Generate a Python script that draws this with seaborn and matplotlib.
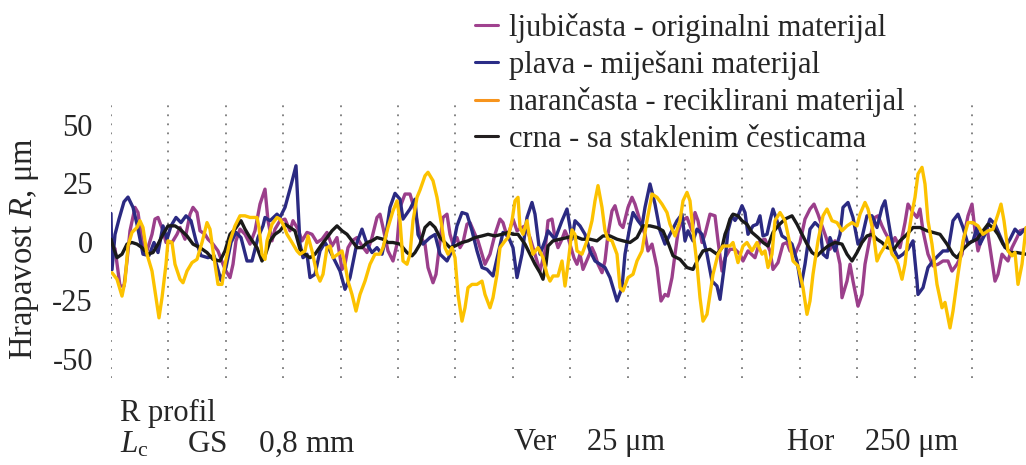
import numpy as np
import pandas as pd
import matplotlib
matplotlib.use("Agg")
import matplotlib.pyplot as plt
from matplotlib.lines import Line2D
import seaborn as sns

# sampling step of the profile (mm per sample index)
STEP_MM = 0.004355

names = ["ljubičasta - originalni materijal", "plava - miješani materijal",
         "narančasta - reciklirani materijal", "crna - sa staklenim česticama"]

purple_x = [0,4,9,13,16,19,24,27,31,36,41,44,47,52,55,61,66,69,74,79,82,86,89,94,97,102,107,112,115,119,122,125,129,134,139,144,149,154,157,161,164,169,174,179,182,187,191,196,201,206,211,216,221,226,231,234,237,241,246,251,256,261,266,269,272,277,282,286,289,294,299,304,309,314,317,322,325,329,332,336,339,342,346,349,352,356,359,364,367,371,374,379,384,389,392,396,399,402,406,411,414,419,424,429,434,437,441,444,447,451,454,457,461,463,466,469,472,477,481,484,487,491,494,497,501,504,509,512,517,521,524,529,534,537,541,546,550,554,557,561,564,567,571,576,581,584,587,591,594,599,604,607,611,614,619,624,629,632,637,644,649,654,659,662,667,672,676,679,684,689,694,699,703,707,711,714,719,724,729,731,736,739,742,747,751,754,759,764,767,771,774,777,781,784,789,794,797,802,806,809,812,817,822,827,832,837,841,846,851,854,857,861,864,867,871,876,879,884,887,891,894,897,901,906,909,914]
purple_v = [-1.1,-3,-19,-19,-8.3,4.6,14.6,12.4,0.3,-4,3.1,9.6,10.3,4.6,-0.4,-0.4,3.1,6,1,11.7,14.6,12.4,4.6,3.1,1,-1.1,-4,-9.7,-12.6,-15.4,-9.7,0.3,5.3,3.1,-1.1,4.6,16,22.4,8.9,0.3,5.3,8.9,9.6,4.6,8.9,5.3,0.3,3.9,3.1,-0.4,1,3.9,-1.9,1.7,-11.9,-9.7,-2.6,0.3,1.7,-1.9,-4.7,1.7,10.3,11.7,6,-4,-8.3,-1.1,14.6,20.3,20.3,13.1,2.4,-1.1,-11.1,-17.6,-14,0.3,10.3,11.7,3.1,-1.1,1.7,-2.6,-0.4,7.4,8.1,3.1,0.3,-5.4,-9.7,-5.4,3.1,9.6,8.1,2.4,5.3,9.6,4.6,6,6.7,1.7,-5.4,-12.6,-4,8.9,9.6,1.7,-2.6,1,4.6,1.7,-4,-7,-9.7,-5.4,-11.9,-6.9,-2.6,-5.4,-9.7,-13.3,-8.3,3.1,13.1,15.3,7.4,6,14.6,18.9,16,8.9,3.1,-4,-1.1,-11.1,-25.4,-22.6,-23.3,-15.4,-5.4,3.9,8.9,10.3,4.6,12.4,8.9,-0.4,3.1,11.7,11,0.3,-12.6,-7,-3.3,-3.3,-5.4,-8.3,-4,-6.9,0.3,1,-4,-11.9,-9,-1.1,-0.4,-4,-5.4,-0.4,9.6,13.9,16,11.7,6.7,3.1,-3.3,0.3,-9.7,-24,-16.9,-9.7,-16.9,-27.6,-22.6,-9.7,1.7,10.3,11,6.7,4,1.7,-1.1,1.7,-2.6,8.1,16,12.4,10.3,13.9,4.6,-5.4,-10.4,-9.7,-8.3,-8.3,-12.6,-9.7,-5.4,4.6,11,16,4.6,-4,1.7,6,-2.6,-16.9,-14,-5.4,-6.9,-8.3,-2.6,1.7,4.6,5.3]

blue_x = [0,1,4,8,13,17,22,26,32,38,43,47,52,56,60,65,70,75,80,85,90,97,103,110,115,120,125,130,136,141,147,152,154,159,166,169,174,180,185,189,192,196,199,204,209,214,219,224,229,234,239,246,251,256,261,266,271,274,279,284,289,292,299,304,307,312,319,324,329,336,341,346,351,356,361,366,371,376,382,387,392,397,402,406,411,416,421,424,429,434,437,444,451,456,461,464,469,474,479,484,489,494,499,506,511,514,519,522,527,531,534,539,544,549,554,559,566,571,574,577,582,586,591,596,601,606,609,614,617,621,624,627,631,634,637,642,646,649,652,656,659,662,666,671,676,681,686,690,694,699,704,709,712,716,719,724,729,732,737,742,747,751,756,761,766,771,774,779,782,787,792,797,802,806,807,812,817,822,827,832,837,842,847,852,857,862,866,869,874,879,884,889,894,899,904,909,914]
blue_v = [12,-12,3,9.6,17,19,14.6,7.4,-5.4,-6,-0.4,-4.7,6.7,1,6.7,10.3,8.1,11,8.9,0.3,-6,-6.9,-6,-16.6,-11,-0.4,3.9,1.7,-8.3,-8.3,1.7,6.7,10.3,8.9,11.7,10.3,14.6,24,32.4,-1.1,-6.9,-5.4,-15.4,-14,-4,-0.4,-4,-8.3,-12.6,-20.4,-15.4,-0.4,5.3,-1.1,-4.7,-2.6,-5.4,0.3,14.6,20.6,18.1,9.6,13.9,18.1,3,-1.1,1.7,3,-5.4,-8.3,-4,6.7,12.4,11.7,4.6,-4,-11.1,-11.9,-14.7,-5.4,3.9,2.4,-2.6,-15.4,-5.4,10.3,16.7,11.7,-5.4,0.3,4.6,1,8.9,13.9,1,8.9,6.7,3.1,-4,-8.3,-9.7,-11.1,-15.4,-25.4,-19.7,-5.4,6.7,12.4,8.9,6.7,14.6,24.6,16,4.6,-1.1,3.1,8.9,11.7,0.3,4.6,0.3,5.3,3.1,-5.4,-16.9,-19,-24.7,-8.3,4.6,11,9,11,15.3,12.4,3.1,6.7,7.4,11,2.4,3.1,8.9,13.9,8.9,2.4,1,-1.1,-8.3,-19,-9.7,5.3,8.1,6,-5.4,-6.9,1.7,-4,3.1,14.6,16.7,10.3,-1.1,1.7,11,11,6,14.6,17.4,4.6,-2.6,-6.9,-5.4,-3.3,0.3,-16.9,-22.6,-19.7,-11.1,-8.3,-6.1,-4,-4,8.9,11.7,6,-1.1,0.3,6,-1.1,3.1,9.6,7.4,2.4,-2.6,1,5.3,3.1,5.3]

yellow_x = [1,6,11,14,17,21,26,29,32,36,41,44,48,51,55,57,61,64,69,72,76,81,86,91,96,99,102,107,111,114,119,124,129,134,139,146,148,151,154,156,161,166,169,172,176,181,186,189,194,197,201,206,209,212,216,219,222,227,231,234,237,241,245,249,254,259,264,269,272,277,282,286,289,292,296,299,302,306,309,314,317,322,326,331,334,337,341,344,347,351,354,357,361,366,371,374,379,382,386,389,394,397,401,404,407,409,412,416,419,422,427,432,436,439,442,447,451,454,457,461,464,466,471,476,481,484,487,491,494,497,501,506,509,512,517,522,526,531,536,541,546,551,556,559,564,569,572,576,579,582,586,589,592,596,599,602,607,612,619,622,627,632,636,641,646,651,654,657,661,664,669,674,679,682,687,692,696,699,702,707,712,716,721,726,731,736,741,746,749,754,757,762,766,769,774,777,781,784,787,791,794,797,801,804,807,811,814,817,821,826,831,834,839,842,847,852,857,862,867,872,877,882,887,890,893,897,901,904,907,911,915]
yellow_v = [-13.3,-16.1,-23.3,-17,-1.9,3.9,6,8.9,6,-5.4,-12.6,-21.1,-32.6,-24,-9.7,0.3,-0.4,-9.7,-16.1,-17.6,-12.6,-9,-7.6,-0.4,8.1,5.3,-4,-18.3,-18.3,-9.7,0.3,6.7,11,11,10.3,10.3,6,-5.4,-7.6,0.3,7.4,10.3,9.6,7.4,3.1,-0.4,-4,-5.4,-4,2.4,-4,-14,-16.9,-14,-2.6,-1.9,-6.9,-5.4,-4,-9.7,-16.9,-22.6,-29.7,-22.6,-16.9,-9.7,-5.4,-5.4,-2.6,6,13.1,17.4,8.9,-8.3,-9.7,-5.4,8.9,18.9,22,28.1,29.6,26,18.9,6,-2.6,-5.4,-2.6,-6.9,-22.6,-34,-28.3,-19.7,-18.3,-18.3,-16.9,-22.6,-28.3,-24,-14,-2.6,0.3,1.7,8.9,17.4,18.9,6,3.1,8.9,0.3,-5.4,-2.6,-6.9,-14,-16.9,-14.7,-14.7,-8.3,-19,-9.7,5,3,-4,-5.4,0.3,8.9,17.4,23.9,14.6,4.6,1,0.3,-5.4,-19.7,-21.1,-15.4,-14,-8.3,-4,8.9,20.3,18.9,16,12.4,7.4,2.4,8.9,17.4,21,17.4,4.6,-9.7,-24,-34,-31.1,-22.6,-14,-5.4,-1.9,-1.9,-0.4,-9,-1.9,-0.4,-4,-0.4,-5.4,-4,-11.1,-5.4,8.9,12.4,8.9,-1.1,-8.3,-10.4,-19.7,-31.1,-25.4,-14,0.3,11,13.9,8.9,8.1,4.6,6.7,8.1,6.7,11.7,16.7,13.9,4.6,-8.3,-5.4,-1.9,1.7,-5.4,-6.9,-9.7,-16.1,-9.7,1.7,12.4,18.9,28.9,31.7,24.6,8.9,-1.1,-18.3,-28.3,-26,-36.9,-29.7,-14,0.3,8.1,8.1,6.7,3.1,4.6,5.3,11.7,16,8.9,-4,-6.1,-4.7,-18.3,-9.7,6]

black_x = [0,3,6,11,16,21,26,31,37,42,47,52,57,64,69,76,82,89,96,102,109,114,119,124,130,134,139,146,151,154,159,164,169,174,179,184,189,194,199,204,211,216,221,226,231,236,241,246,251,256,261,266,272,277,282,289,296,301,304,309,314,319,324,329,334,339,344,351,357,364,371,377,384,391,397,402,407,414,419,424,429,432,435,437,442,449,456,463,471,479,486,492,499,506,512,519,526,532,539,546,552,557,562,569,576,582,587,592,599,606,611,614,616,619,622,627,631,636,641,647,652,657,662,667,674,681,686,691,696,701,706,711,717,724,731,736,741,746,751,756,761,766,771,776,783,789,796,802,809,816,822,829,836,842,846,852,859,866,872,877,882,887,892,899,906,915]
black_v = [1,-3.3,-6.9,-5.4,-1.1,-0.4,-1.1,-2.6,-5.4,-4.7,-1.1,3.1,6.7,6.7,5.3,2.4,-1.1,-2.6,-4.7,-7.6,-8.3,-4,3.1,5.3,8.9,5.3,1.7,-2.6,-8.3,-6.1,0.3,3.1,4.6,7.4,6,4.6,-3.3,-5.4,-6.9,-5.4,-1.1,1.7,4.6,6.7,4.6,3.1,0.3,-2.6,-2.6,-0.4,0.3,1.7,1,-0.4,-0.4,-1.1,-4.7,-6.1,-4.7,-1.1,6,8.1,6,1.7,-0.4,-2.6,-1.9,-0.4,0.3,1.7,2.4,3.1,2.4,3.1,3.9,3.1,3.1,-1.1,-5.4,-9.7,-13.3,-16.1,-9.7,-1.9,0.3,1,1.7,2.4,1,1,0.3,2.4,2.4,1,0.3,-0.4,1.7,6.7,6.7,6,4.6,-0.4,-6.1,-7.6,-11.1,-11.9,-7.6,-4,-3.3,-5.4,-2.6,3.1,5.3,9.6,11.7,11,8.9,7.4,3.9,1.7,-0.4,-1.9,3.9,6.7,9.6,11,7.4,3.1,-1.1,-4.7,-6.1,-4,-1.9,-0.4,-1.1,-5.4,-8.3,-4.7,-0.4,2.4,3.1,1,-0.4,-2.6,-3.3,0.3,3.1,6,6,4.6,3.9,3.1,-1.1,-5.4,-6.9,-3.3,-0.4,1,4.6,7.4,6,3.1,-1.1,-4.7,-4.7,-5.4]

line_colors = ["#9b3f8b", "#2b2a82", "#fcc200", "#1a1a1a"]
legend_colors = ["#a0428f", "#2b2d87", "#f7941d", "#231f20"]
ytick_vals = [-50, -25, 0, 25, 50]

frames = []
for nm, xs, vs in zip(names, [purple_x, blue_x, yellow_x, black_x],
                      [purple_v, blue_v, yellow_v, black_v]):
    frames.append(pd.DataFrame({"x": np.array(xs) * STEP_MM, "R": vs, "serija": nm}))
df = pd.concat(frames, ignore_index=True)

sns.set_style("white")
plt.rcParams["font.family"] = ["Liberation Serif", "DejaVu Serif"]
plt.rcParams["mathtext.fontset"] = "custom"
plt.rcParams["mathtext.rm"] = "Liberation Serif"
plt.rcParams["mathtext.it"] = "Liberation Serif:italic"

fig = plt.figure(figsize=(10.26, 4.65), dpi=100)
ax = fig.add_axes([111 / 1026, 1 - 378 / 465, 1 - 111 / 1026, (378 - 103) / 465])

draw_order = [0, 1, 3, 2]
pal = dict(zip(names, line_colors))
for i in draw_order:
    sub = df[df["serija"] == names[i]]
    sns.lineplot(data=sub, x="x", y="R", color=pal[names[i]], lw=2.4,
                 estimator=None, sort=False, ax=ax, legend=False, zorder=3)

ax.set_xlim(0, 915 * STEP_MM)
ax.set_ylim(-58.3, 59.2)
ax.set_xticks(np.arange(0, 4.0, 0.25))
ax.set_xticklabels([])
ax.set_yticks(ytick_vals)
ax.set_yticklabels([str(v) for v in ytick_vals], fontsize=22)
ax.set_yticks([-50, -25, 25, 50], minor=True)
ax.tick_params(axis="both", which="both", length=0)
ax.tick_params(axis="y", pad=13)
ax.grid(False)
ax.xaxis.grid(True, which="major", color="#7a7a7a", linestyle=(0, (1, 4)), lw=1.3)
ax.yaxis.grid(True, which="minor", color="#7a7a7a", linestyle=(0, (1, 4)), lw=1.3)
for s in ax.spines.values():
    s.set_visible(False)
ax.set_xlabel("")
ax.set_ylabel("Hrapavost $R$, μm", fontsize=23.5)
ax.yaxis.set_label_coords(-70 / 915, 0.47)

handles = [Line2D([0], [0], color=c, lw=2.2) for c in legend_colors]
leg = fig.legend(handles, names, loc="upper left",
                 bbox_to_anchor=(472 / 1026, 1 - 10 / 465), fontsize=22,
                 frameon=True, facecolor="white", edgecolor="none", framealpha=1,
                 handlelength=0.75, handletextpad=0.35, labelspacing=0.24,
                 borderpad=0.1, borderaxespad=0)

fig.text(120 / 1026, 1 - 413 / 465, "R profil", fontsize=22, va="center", ha="left")
fig.text(120 / 1026, 1 - 444 / 465, r"$L_{\mathrm{c}}$     GS    0,8 mm", fontsize=22.5,
         va="center", ha="left")
fig.text(514 / 1026, 1 - 442 / 465, "Ver    25 μm", fontsize=22, va="center", ha="left")
fig.text(787 / 1026, 1 - 442 / 465, "Hor    250 μm", fontsize=22, va="center", ha="left")

fig.savefig("out.png", dpi=100)
